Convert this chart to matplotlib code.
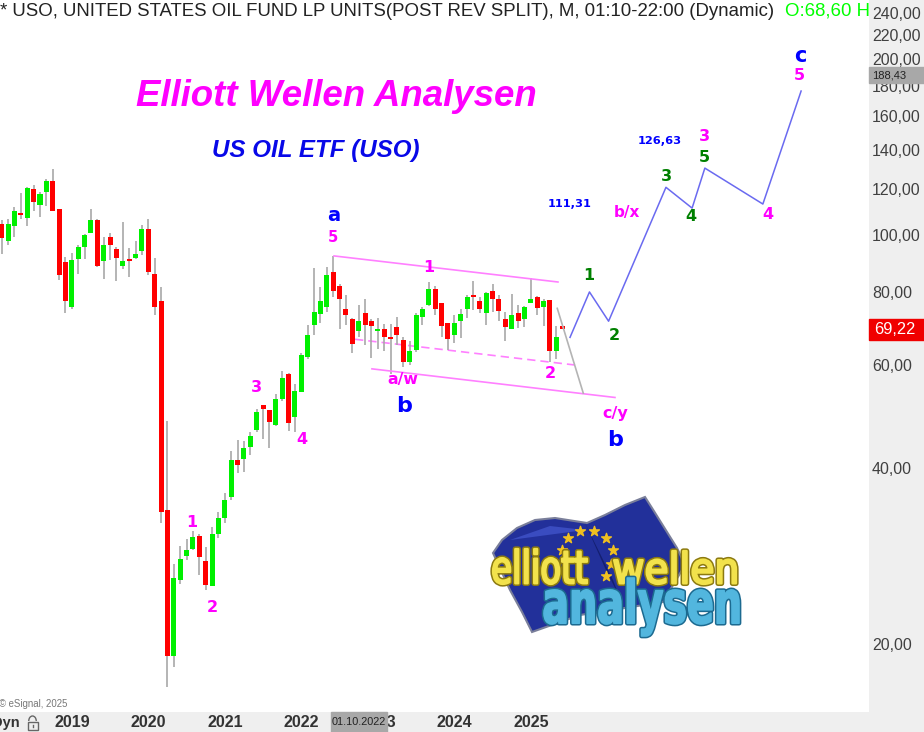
import matplotlib
matplotlib.use('Agg')
import matplotlib.pyplot as plt
from matplotlib.font_manager import FontProperties
from matplotlib.patches import Arc, PathPatch, Polygon, Rectangle
from matplotlib.textpath import TextPath
from matplotlib.transforms import Affine2D
from matplotlib.ticker import NullLocator

plt.rcParams['font.family'] = ['Liberation Sans', 'DejaVu Sans']

# monthly candles, Feb 2018 .. Jun 2025
opens = [104.5, 97.9, 103.7, 109.3, 107.1, 119.8, 112.5, 118.6, 124.0, 110.8,
         90.0, 75.3, 91.0, 95.4, 100.8, 106.2, 90.3, 99.4, 94.9, 88.5,
         91.0, 91.4, 94.1, 102.4, 85.9, 77.3, 33.9, 19.1, 25.7, 28.3,
         29.1, 30.6, 27.7, 25.1, 30.9, 32.9, 35.7, 41.3, 41.4, 43.5,
         46.5, 51.2, 50.3, 47.3, 52.5, 57.8, 48.9, 54.0, 61.9, 70.3,
         73.4, 75.3, 86.5, 81.9, 74.7, 72.0, 68.5, 73.7, 71.4, 68.5,
         69.1, 67.1, 69.8, 66.2, 60.6, 63.7, 72.6, 75.9, 81.0, 76.5,
         70.9, 67.5, 71.4, 74.7, 79.0, 77.3, 73.7, 80.2, 77.7, 72.0,
         69.2, 73.5, 71.8, 76.7, 78.3, 75.3, 77.5, 63.5, 70.0]
highs = [106.2, 106.5, 112.0, 118.0, 120.8, 122.0, 118.6, 124.7, 130.0, 110.8,
         91.7, 93.2, 96.4, 100.5, 110.8, 106.5, 99.4, 101.0, 95.4, 105.4,
         95.2, 97.9, 104.3, 106.5, 91.4, 81.6, 48.2, 27.4, 29.4, 30.2,
         31.2, 30.9, 29.3, 31.7, 33.6, 36.3, 42.7, 44.7, 44.5, 46.0,
         50.4, 51.2, 50.3, 53.5, 58.7, 58.1, 55.7, 63.0, 70.2, 87.9,
         81.7, 88.4, 92.2, 82.6, 79.0, 72.2, 76.1, 77.7, 72.0, 72.2,
         70.5, 70.5, 72.6, 66.9, 66.0, 73.5, 75.5, 83.2, 81.9, 76.5,
         70.9, 73.0, 74.7, 79.2, 83.4, 78.3, 80.0, 82.6, 79.2, 73.9,
         79.4, 76.1, 75.7, 84.5, 78.7, 77.7, 77.5, 70.0, 70.0]
lows = [92.9, 96.3, 99.5, 106.6, 103.7, 109.9, 107.4, 112.2, 110.2, 83.9,
        73.7, 74.7, 85.9, 91.0, 100.8, 88.1, 84.1, 90.7, 83.6, 87.7,
        85.0, 91.2, 92.4, 85.4, 73.0, 32.2, 16.9, 18.3, 25.3, 27.8,
        29.0, 26.2, 24.7, 25.1, 30.3, 32.2, 35.2, 39.2, 39.4, 42.1,
        46.0, 44.9, 43.3, 47.1, 52.1, 46.3, 46.1, 54.0, 61.4, 67.6,
        70.9, 73.9, 78.5, 69.2, 70.2, 63.0, 66.9, 64.9, 61.7, 63.8,
        63.5, 57.8, 65.0, 59.6, 60.0, 63.2, 70.3, 75.7, 73.1, 67.0,
        63.7, 65.4, 66.7, 72.2, 74.5, 73.7, 70.3, 73.9, 71.4, 65.9,
        69.1, 69.4, 69.8, 76.7, 73.1, 70.0, 60.7, 61.5, 69.1]
closes = [99.0, 104.5, 110.2, 108.3, 120.5, 114.0, 117.6, 124.0, 110.2, 85.6,
          77.1, 90.7, 95.4, 100.0, 106.2, 88.5, 96.2, 96.2, 91.4, 90.5,
          90.3, 92.9, 102.4, 86.5, 75.5, 33.6, 19.1, 25.9, 28.0, 29.0,
          30.5, 28.2, 25.2, 30.9, 32.9, 35.2, 41.3, 40.4, 43.2, 45.4,
          49.9, 50.5, 47.9, 52.4, 57.0, 47.8, 54.2, 62.3, 67.5, 73.9,
          77.1, 85.4, 80.2, 77.9, 73.0, 65.2, 71.4, 70.2, 70.0, 69.2,
          67.1, 66.4, 67.5, 60.6, 63.5, 73.1, 74.9, 80.9, 74.9, 70.0,
          66.5, 70.9, 73.3, 78.5, 78.3, 74.7, 79.6, 77.7, 74.3, 69.8,
          73.0, 71.4, 75.5, 77.9, 75.1, 77.3, 63.5, 67.1, 69.1]

price_ticks = [20, 40, 60, 80, 100, 120, 140, 160, 180, 200, 220, 240]
year_ticks = [11, 23, 35, 47, 59, 71, 83]
year_labels = ['2019', '2020', '2021', '2022', '2023', '2024', '2025']

# Forecast path and channel lines (month index, price)
path_x = [89.15, 92.2, 95.2, 104.2, 108.3, 110.3, 119.4, 125.4]
path_y = [66.9, 80.0, 71.3, 120.8, 111.3, 130.3, 113.1, 176.5]
chan_top_x, chan_top_y = [52.13, 87.26], [92.2, 83.2]
chan_mid_x, chan_mid_y = [55.42, 89.93], [66.4, 60.0]
chan_low_x, chan_low_y = [58.08, 96.2], [59.1, 52.8]
grey_x, grey_y = [87.15, 91.23], [75.0, 53.7]

# Wave labels
pink = '#ff00ff'
blue = '#0000ff'
green = '#008000'
wave_text = ['a', '5', '1', '3', '4', '1', '2', 'a/w', 'b', '2', 'c/y', 'b',
             '1', '2', '111,31', 'b/x', '3', '4', '126,63', '3', '5', '4', 'c', '5']
wave_x = [52.0, 52.0, 67.0, 40.0, 47.1, 29.85, 33.0, 62.95, 63.1, 86.0, 96.2, 96.2,
          92.1, 96.05, 89.15, 98.1, 104.2, 108.1, 103.3, 110.2, 110.2, 120.2, 125.2, 125.2]
wave_y = [108.3, 99.0, 88.0, 55.0, 44.7, 32.3, 23.13, 56.6, 51.1, 58.1, 49.5, 44.7,
          85.5, 67.5, 113.1, 109.2, 126.3, 107.6, 145.0, 147.3, 136.1, 108.7, 202.6, 187.3]
wave_col = [blue, pink, pink, pink, pink, pink, pink, pink, blue, pink, pink, blue,
            green, green, blue, pink, green, green, blue, pink, green, pink, blue, pink]
wave_size = [14, 10.5, 11.5, 11.5, 11.5, 11.5, 11.5, 11.3, 16, 11.5, 11.5, 16,
             11.5, 11.5, 8.2, 11, 11.5, 11.5, 8.2, 11.5, 11.5, 11.5, 15, 11.5]

fig = plt.figure(figsize=(9.24, 7.32), dpi=100, facecolor='#efefef')
ax = fig.add_axes([0, 20 / 732, 869 / 924, 712 / 732], facecolor='white')
ax.set_yscale('log')
ax.set_xlim(-0.267, 136.05)
ax.set_ylim(15.30, 252.6)
for s in ax.spines.values():
    s.set_visible(False)

# candles
xs = list(range(len(opens)))
ax.vlines(xs, lows, highs, color='#a8a8a8', lw=1.2, zorder=2)
for i in xs:
    top = max(opens[i], closes[i])
    bot = min(opens[i], closes[i])
    col = '#00f000' if closes[i] > opens[i] else '#ff0000'
    ax.bar(i, top - bot, bottom=bot, width=0.8, color=col, zorder=3)

ax.plot(chan_top_x, chan_top_y, color='#ff80ff', lw=1.2, zorder=4)
ax.plot(chan_mid_x, chan_mid_y, color='#ff80ff', lw=1.2, ls=(0, (5, 3)), zorder=1)
ax.plot(chan_low_x, chan_low_y, color='#ff80ff', lw=1.2, zorder=4)
ax.plot(grey_x, grey_y, color='#b4b4b4', lw=1.2, zorder=4)
ax.plot(path_x, path_y, color='#6a6af0', lw=1.1, zorder=4)

for t, x, y, c, sz in zip(wave_text, wave_x, wave_y, wave_col, wave_size):
    ax.text(x, y, t, color=c, fontsize=sz, fontweight='bold', family='DejaVu Sans',
            ha='center', va='center', zorder=6)

# axes
ax.yaxis.tick_right()
ax.set_yticks(price_ticks)
ax.set_yticklabels(['%d,00' % p for p in price_ticks])
ax.yaxis.set_minor_locator(NullLocator())
ax.tick_params(axis='y', length=0, pad=2, labelsize=11.5, labelcolor='#404040')
ax.set_xticks(year_ticks)
ax.set_xticklabels(year_labels, fontweight='bold')
ax.tick_params(axis='x', length=0, pad=2.5, labelsize=11.6, labelcolor='#333333')

# crosshair date tag
ax.add_patch(Rectangle((56 - 4.4, -20 / 712), 8.8, 20 / 712, transform=ax.get_xaxis_transform(),
                       color='#a8a8a8', clip_on=False, zorder=7))
ax.text(56, -10 / 712, '01.10.2022', transform=ax.get_xaxis_transform(), fontsize=7.8,
        color='#222222', ha='center', va='center', zorder=8)

# price tags
ytrans = ax.get_yaxis_transform()
ax.add_patch(Rectangle((1, 66.2), 0.0633, 71.9 - 66.2, transform=ytrans, color='#f00000',
                       clip_on=False, zorder=7))
ax.text(1.03, 69.1, '69,22', transform=ytrans, color='white', fontsize=11.8, ha='center',
        va='center', zorder=8)
ax.add_patch(Rectangle((1, 182.2), 0.0633, 194.1 - 182.2, transform=ytrans, color='#a8a8a8',
                       clip_on=False, zorder=7))
ax.text(1.0035, 188.0, '188,43', transform=ytrans, color='#222222', fontsize=8, ha='left',
        va='center', zorder=8)

# header line, cut off at the price scale
ax.text(0, 1 - 11 / 712, '* USO, UNITED STATES OIL FUND LP UNITS(POST REV SPLIT), M, 01:10-22:00 (Dynamic)',
        transform=ax.transAxes, fontsize=13.45, color='#222222', ha='left', va='center', clip_on=True)
ax.text(785 / 869, 1 - 11 / 712, 'O:68,60 H:69,50', transform=ax.transAxes, fontsize=13.45,
        color='#00ff00', ha='left', va='center', clip_on=True)

# overlay in pixels for the free text
top = fig.add_axes([0, 0, 1, 1], facecolor='none', zorder=10)
top.set_xlim(0, 924)
top.set_ylim(732, 0)
top.axis('off')
top.text(336.5, 97, 'Elliott Wellen Analysen', color=pink, fontsize=26.4, fontweight='bold',
         fontstyle='italic', ha='center', va='center')
top.text(316, 151, 'US OIL ETF (USO)', color='#0808e8', fontsize=17.4, fontweight='bold',
         fontstyle='italic', ha='center', va='center')
top.text(-1, 704, '© eSignal, 2025', color='#777777', fontsize=6.9, ha='left', va='center')
top.text(20, 723, 'Dyn', color='#333333', fontsize=10.5, fontweight='bold', ha='right', va='center')
top.add_patch(Rectangle((27.5, 721.5), 10, 8, fc='none', ec='#666666', lw=1))
top.add_patch(Arc((32.5, 721), 7.5, 10, theta1=180, theta2=360, ec='#666666', lw=1))
top.plot([32.5, 32.5], [724.5, 727], color='#666666', lw=1)


def fit_text(axl, s, x0, y0, x1, y1, face, edge, lw, weight='normal'):
    tp = TextPath((0, 0), s, size=10, prop=FontProperties(family='DejaVu Sans', weight=weight))
    bb = tp.get_extents()
    tr = Affine2D().translate(-bb.x0, -bb.y0).scale((x1 - x0) / bb.width, -(y1 - y0) / bb.height).translate(x0, y1)
    p = tr.transform_path(tp)
    axl.add_patch(PathPatch(p, fc='none', ec=edge, lw=lw + 2.2, joinstyle='round', zorder=4))
    axl.add_patch(PathPatch(p, fc=face, ec=face, lw=lw, joinstyle='round', zorder=4))


# logo
logo = fig.add_axes([480 / 924, 1 - 640 / 732, 270 / 924, 150 / 732], facecolor='none', zorder=9)
logo.set_xlim(0, 270)
logo.set_ylim(150, 0)
logo.axis('off')
flag_x = [13, 22, 37, 55, 75, 107, 125, 145, 165, 172, 197, 205, 183, 100, 52, 42, 30]
flag_y = [63, 50, 38, 30, 28, 33, 25, 15, 7, 18, 58, 75, 112, 125, 142, 122, 100]
logo.add_patch(Polygon(list(zip(flag_x, flag_y)), closed=True, fc='#22309a', ec='#7a7f9a', lw=1.5))
logo.add_patch(Polygon([(30, 50), (70, 36), (105, 40), (60, 46)], closed=True, fc='#3a4cc0', ec='none'))
logo.add_patch(Polygon([(105, 33), (133, 90), (140, 108), (125, 78)], closed=True, fc='#141f70', ec='none'))
star_x = [88, 100, 114, 126, 133, 82, 126, 131]
star_y = [48, 41, 41, 48, 60, 60, 86, 74]
logo.scatter(star_x, star_y, marker='*', s=55, color='#f0c020', zorder=3)
fit_text(logo, 'elliott', 13, 59, 107, 94, '#f2e24c', '#8c7a10', 1.6)
fit_text(logo, 'wellen', 134, 61, 256, 94, '#f2e24c', '#8c7a10', 1.6)
fit_text(logo, 'analysen', 64, 88, 259, 146, '#52b6de', '#1c6a90', 1.2, weight='bold')

fig.savefig('out.png', dpi=100)
